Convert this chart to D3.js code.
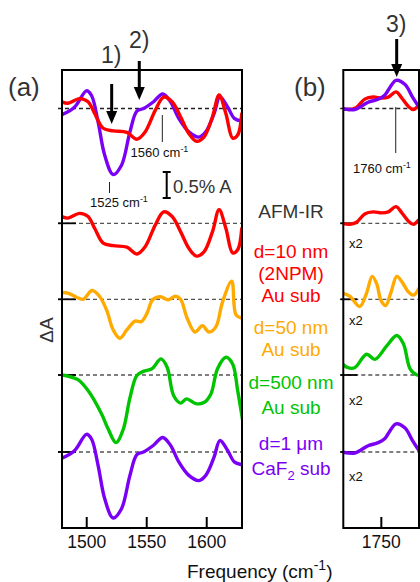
<!DOCTYPE html>
<html>
<head>
<meta charset="utf-8">
<script src="https://cdn.jsdelivr.net/npm/d3@7"></script>
<style>
  body { margin: 0; background: #fff; }
  svg { display: block; font-family: "Liberation Sans", Arial, sans-serif; }
</style>
</head>
<body>
<div id="chart"></div>
<script>
// AFM-IR difference spectra, panel (a) 1480-1630 and panel (b) 1720-1780 cm-1

// panel (a) spectra, ΔA in %
const caf2Freq = [1479.3, 1490, 1499.8, 1504, 1509.5, 1515, 1522, 1529, 1536, 1541.8, 1547.3, 1555.7, 1563.3, 1569.8, 1576.7, 1585.1, 1593.5, 1599.2, 1606.1, 1611, 1617.4, 1623, 1628.6];
const caf2Val  = [-0.12, 0.03, 0.34, 0.25, -0.26, -0.90, -1.27, -1.09, -0.45, -0.05, 0, 0.13, 0.28, 0.13, -0.19, -0.45, -0.55, -0.45, -0.10, 0.22, 0.03, -0.19, -0.24];

const nm10Freq = [1479.3, 1484.3, 1494.1, 1501.1, 1506.7, 1513.7, 1522.1, 1533.4, 1541.8, 1548.7, 1557.2, 1564.1, 1571.2, 1578.2, 1585.1, 1591.4, 1597.7, 1604.8, 1610.3, 1616, 1621.6, 1625.8, 1629.2];
const nm10Val  = [0.13, 0.10, 0.19, 0.13, -0.10, -0.38, -0.43, -0.46, -0.59, -0.45, -0.03, 0.22, 0.13, -0.16, -0.48, -0.63, -0.55, -0.16, 0.26, -0.10, -0.57, -0.51, -0.10];

const nm50Freq = [1479.3, 1484.3, 1491.4, 1496.9, 1504.5, 1510.9, 1516.6, 1522.1, 1527.7, 1533.4, 1540.3, 1545.4, 1550.2, 1554.9, 1561.4, 1567.8, 1574, 1578.2, 1583.8, 1590.2, 1596.4, 1602, 1607.6, 1613.2, 1620.8, 1624.4, 1629.2];
const nm50Val  = [0.13, 0.12, 0.04, 0, 0.17, 0.05, -0.21, -0.59, -0.75, -0.59, -0.42, -0.43, -0.27, -0.01, 0.05, -0.01, 0.06, 0, -0.37, -0.63, -0.51, -0.63, -0.53, -0.05, 0.35, -0.30, -0.36];

const nm500Freq = [1479.3, 1485.7, 1492.7, 1501.1, 1512.4, 1517.9, 1524.4, 1530.5, 1536.1, 1541.8, 1547.3, 1554.4, 1561.9, 1567, 1572.5, 1578.2, 1583.2, 1590.8, 1597.7, 1603.4, 1609, 1616, 1621.6, 1625.8, 1630];
const nm500Val  = [0, -0.03, -0.09, -0.30, -0.75, -1.04, -1.30, -1.04, -0.43, -0.01, 0.07, 0.12, 0.31, 0.15, -0.40, -0.54, -0.46, -0.55, -0.53, -0.37, 0.12, 0.34, 0.21, -0.30, -0.88];

// panel (b) spectra, ΔA in % (drawn x2)
const caf2FreqB = [1717.2, 1727.8, 1733, 1739, 1747.4, 1753, 1757, 1762.3, 1769.8, 1775.5, 1781];
const caf2ValB  = [0, -0.01, 0.02, 0.06, 0.09, 0.13, 0.20, 0.27, 0.23, 0.12, 0.02];

const nm10FreqB = [1717.2, 1723.6, 1729.3, 1736.2, 1743.2, 1750.3, 1755.8, 1762.3, 1767.1, 1772.6, 1776.8, 1781];
const nm10ValB  = [0, -0.01, 0.01, 0.09, 0.11, 0.10, 0.11, 0.16, 0.10, 0.02, -0.01, 0.03];

const nm50FreqB = [1717.2, 1723.6, 1732, 1737.7, 1742.4, 1746.1, 1749.7, 1753.6, 1758.1, 1762.9, 1767.1, 1772.6, 1776.8, 1781.6];
const nm50ValB  = [0.06, 0.03, -0.07, 0.06, 0.22, 0.15, -0.01, -0.06, 0.07, 0.22, 0.17, 0.07, 0.04, 0.11];

const nm500FreqB = [1717.2, 1722.2, 1727.8, 1737.7, 1744.6, 1754.5, 1762.9, 1768.4, 1774, 1779.7, 1781.6];
const nm500ValB  = [0.11, 0.07, 0.07, 0.20, 0.15, 0.28, 0.38, 0.30, 0.06, 0, 0];

const ticksA = [1500, 1550, 1600];
const ticksB = [1750];
const factorB = 2;

const red = "#ff0000", orange = "#ffaa00", green = "#00c400", purple = "#7a00f5";
const textGrey = "#333";

const width = 420, height = 582;
const plotTop = 70, plotBottom = 528;
const baselines = [108.5, 223.3, 299.3, 375, 452];

const xA = d3.scaleLinear().domain([1479.4, 1629.4]).range([62, 242]);
const xB = d3.scaleLinear().domain([1718.3, 1781.4]).range([343.3, 419]);
const yPerc = d3.scaleLinear().domain([0, 1]).range([0, -52]);

const svg = d3.select("#chart")
  .append("svg")
  .attr("width", width)
  .attr("height", height)
  .attr("viewBox", [0, 0, width, height]);

// clip paths for both panels
const defs = svg.append("defs");
defs.append("clipPath").attr("id", "clipA")
  .append("rect").attr("x", xA.range()[0]).attr("y", plotTop).attr("width", xA.range()[1] - xA.range()[0]).attr("height", plotBottom - plotTop);
defs.append("clipPath").attr("id", "clipB")
  .append("rect").attr("x", xB.range()[0]).attr("y", plotTop).attr("width", xB.range()[1] - xB.range()[0]).attr("height", plotBottom - plotTop);

// dashed baselines + short solid ticks at the left
function baselinesFor(x, ext) {
  const [x0, x1] = x.range();
  baselines.forEach((b, i) => {
    svg.append("line")
      .attr("x1", x0 - ext).attr("x2", x1)
      .attr("y1", b).attr("y2", b)
      .attr("stroke", i === 0 ? "#222" : "#555")
      .attr("stroke-width", 1.3)
      .attr("stroke-dasharray", "4,3");
    if (i > 0) {
      svg.append("line")
        .attr("x1", x0 - ext).attr("x2", x0 + 14)
        .attr("y1", b).attr("y2", b)
        .attr("stroke", "#000")
        .attr("stroke-width", 1.8);
    }
  });
}
baselinesFor(xA, 4);
baselinesFor(xB, 3);

// spectra
function drawSpectrum(x, clip, freq, vals, base, color, factor = 1) {
  const pts = freq.map((f, i) => [f, vals[i] * factor]);
  const line = d3.line()
    .x(d => x(d[0]))
    .y(d => base + yPerc(d[1]))
    .curve(d3.curveCatmullRom.alpha(0.5));
  svg.append("path")
    .datum(pts)
    .attr("clip-path", `url(#${clip})`)
    .attr("fill", "none")
    .attr("stroke", color)
    .attr("stroke-width", 3.4)
    .attr("stroke-linejoin", "round")
    .attr("stroke-linecap", "round")
    .attr("d", line);
}

// panel (a)
drawSpectrum(xA, "clipA", caf2Freq, caf2Val, baselines[0], purple);
drawSpectrum(xA, "clipA", nm10Freq, nm10Val, baselines[0], red);
drawSpectrum(xA, "clipA", nm10Freq, nm10Val, baselines[1], red);
drawSpectrum(xA, "clipA", nm50Freq, nm50Val, baselines[2], orange);
drawSpectrum(xA, "clipA", nm500Freq, nm500Val, baselines[3], green);
drawSpectrum(xA, "clipA", caf2Freq, caf2Val, baselines[4], purple);

// panel (b)
drawSpectrum(xB, "clipB", nm10FreqB, nm10ValB, baselines[0], red, factorB);
drawSpectrum(xB, "clipB", caf2FreqB, caf2ValB, baselines[0], purple, factorB);
drawSpectrum(xB, "clipB", nm10FreqB, nm10ValB, baselines[1], red, factorB);
drawSpectrum(xB, "clipB", nm50FreqB, nm50ValB, baselines[2], orange, factorB);
drawSpectrum(xB, "clipB", nm500FreqB, nm500ValB, baselines[3], green, factorB);
drawSpectrum(xB, "clipB", caf2FreqB, caf2ValB, baselines[4], purple, factorB);

// frames and inner ticks
[[xA, ticksA], [xB, ticksB]].forEach(([x, ticks]) => {
  const [x0, x1] = x.range();
  svg.append("rect")
    .attr("x", x0).attr("y", plotTop)
    .attr("width", x1 - x0).attr("height", plotBottom - plotTop)
    .attr("fill", "none")
    .attr("stroke", "#000")
    .attr("stroke-width", 2);
  svg.selectAll(null)
    .data(ticks)
    .enter()
    .append("line")
      .attr("x1", d => x(d)).attr("x2", d => x(d))
      .attr("y1", plotBottom).attr("y2", plotBottom - 11)
      .attr("stroke", "#000")
      .attr("stroke-width", 2);
  svg.selectAll(null)
    .data(ticks)
    .enter()
    .append("text")
      .attr("x", d => x(d))
      .attr("y", 548)
      .attr("text-anchor", "middle")
      .attr("font-size", "17.5px")
      .attr("fill", "#111")
      .text(d => d);
});

// axis titles
const xTitle = svg.append("text")
  .attr("x", 187).attr("y", 578)
  .attr("font-size", "19px")
  .attr("fill", "#111");
xTitle.append("tspan").text("Frequency (cm");
xTitle.append("tspan").attr("font-size", "14px").attr("dy", -8).text("-1");
xTitle.append("tspan").attr("dy", 8).text(")");

svg.append("text")
  .attr("transform", "translate(53,330) rotate(-90)")
  .attr("text-anchor", "middle")
  .attr("font-size", "19px")
  .attr("fill", textGrey)
  .text("ΔA");

// panel letters
svg.append("text").attr("x", 8).attr("y", 96).attr("font-size", "26px").attr("fill", textGrey).text("(a)");
svg.append("text").attr("x", 294).attr("y", 96).attr("font-size", "26px").attr("fill", textGrey).text("(b)");

// arrows
function arrow(x, freq, y0, y1, label, labelX, labelY) {
  const px = x(freq);
  svg.append("line")
    .attr("x1", px).attr("x2", px)
    .attr("y1", y0).attr("y2", y1 - 10)
    .attr("stroke", "#000")
    .attr("stroke-width", 3);
  svg.append("path")
    .attr("d", `M${px - 5.5},${y1 - 13} L${px + 5.5},${y1 - 13} L${px},${y1} Z`)
    .attr("fill", "#000");
  svg.append("text")
    .attr("x", labelX).attr("y", labelY)
    .attr("font-size", "23px")
    .attr("fill", textGrey)
    .text(label);
}
arrow(xA, 1520.8, 84, 124, "1)", 101, 63);
arrow(xA, 1543.8, 61, 100, "2)", 129, 48);
arrow(xB, 1762.8, 39, 77, "3)", 386, 32);

// peak annotations
function peakNote(x, freq, y0, y1, label, tx, ty) {
  svg.append("line")
    .attr("x1", x(freq)).attr("x2", x(freq))
    .attr("y1", y0).attr("y2", y1)
    .attr("stroke", "#222")
    .attr("stroke-width", 1);
  const t = svg.append("text")
    .attr("x", tx).attr("y", ty)
    .attr("font-size", "13px")
    .attr("fill", "#111");
  t.append("tspan").text(label + " cm");
  t.append("tspan").attr("font-size", "9px").attr("dy", -5).text("-1");
}
peakNote(xA, 1563, 115, 142, "1560", 130.5, 157);
peakNote(xA, 1519, 182, 193, "1525", 90, 207);
peakNote(xB, 1762, 107, 153, "1760", 353, 173);

// scale bar 0.5 % A
const barX = 166.7, barTop = 172;
svg.append("line")
  .attr("x1", barX).attr("x2", barX)
  .attr("y1", barTop).attr("y2", barTop - yPerc(0.5))
  .attr("stroke", "#000").attr("stroke-width", 2);
[barTop, barTop - yPerc(0.5)].forEach(y => {
  svg.append("line")
    .attr("x1", barX - 4).attr("x2", barX + 4)
    .attr("y1", y).attr("y2", y)
    .attr("stroke", "#000").attr("stroke-width", 2);
});
svg.append("text")
  .attr("x", 173).attr("y", 193)
  .attr("font-size", "18.5px")
  .attr("fill", textGrey)
  .text("0.5% A");

// sample labels
const labelX = 291;
const sampleLabels = [
  { text: "AFM-IR", y: 218, color: textGrey },
  { text: "d=10 nm", y: 258, color: red },
  { text: "(2NPM)", y: 280, color: red },
  { text: "Au sub", y: 302, color: red },
  { text: "d=50 nm", y: 334, color: orange },
  { text: "Au sub", y: 356, color: orange },
  { text: "d=500 nm", y: 389, color: green },
  { text: "Au sub", y: 414, color: green },
  { text: "d=1 μm", y: 450, color: purple }
];
svg.selectAll(null)
  .data(sampleLabels)
  .enter()
  .append("text")
    .attr("x", labelX)
    .attr("y", d => d.y)
    .attr("text-anchor", "middle")
    .attr("font-size", "19px")
    .attr("fill", d => d.color)
    .text(d => d.text);
const caf2Label = svg.append("text")
  .attr("x", labelX).attr("y", 475)
  .attr("text-anchor", "middle")
  .attr("font-size", "19px")
  .attr("fill", purple);
caf2Label.append("tspan").text("CaF");
caf2Label.append("tspan").attr("font-size", "13px").attr("dy", 5).text("2");
caf2Label.append("tspan").attr("dy", -5).text(" sub");

// x2 labels in panel (b)
svg.selectAll(null)
  .data([248, 325, 405, 481])
  .enter()
  .append("text")
    .attr("x", 349)
    .attr("y", d => d)
    .attr("font-size", "13px")
    .attr("fill", "#111")
    .text("x2");
</script>
</body>
</html>
